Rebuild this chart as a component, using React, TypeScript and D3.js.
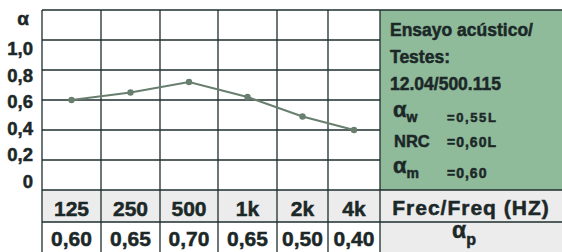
import React from "react";
import * as d3 from "d3";

const freqs = ["125", "250", "500", "1k", "2k", "4k"];
const plotted = [0.6, 0.65, 0.72, 0.62, 0.49, 0.4];
const tableValues = ["0,60", "0,65", "0,70", "0,65", "0,50", "0,40"];
const yLabels = ["1,0", "0,8", "0,6", "0,4", "0,2", "0"];
const gridValues = [0.2, 0.4, 0.6, 0.8, 1.0, 1.2];
const panelLines = ["Ensayo acústico/", "Testes:", "12.04/500.115"];
const ratings = [
  { sym: "α", sub: "w", val: "=0,55L" },
  { sym: "NRC", sub: "", val: "=0,60L" },
  { sym: "α", sub: "m", val: "=0,60" },
];

const W = 562;
const H = 252;
const FONT = "'Liberation Sans', Arial, sans-serif";
const INK = "#1c2828";
const GRID = "#1e2d2d";
const GREEN = "#8fbb9b";
const LIGHT = "#ececec";
const LINE = "#687f6f";

const heavy = { stroke: INK, strokeWidth: 0.5, paintOrder: "stroke" } as const;

export default function App() {
  const colX = d3
    .scaleLinear()
    .domain([0, 1, 2, 3, 4, 5, 6])
    .range([42, 101, 160, 218, 277, 328, 380]);
  const y = d3.scaleLinear().domain([0, 1.2]).range([190, 10]);
  const labelY = d3.scaleLinear().domain([0, 5]).range([55, 188]);
  const hdrTop = 190;
  const hdrBot = 222;
  const panelX = 380;

  const pts = plotted.map((v, i) => [colX(i + 0.5), y(v)] as [number, number]);
  const line = d3.line()(pts) || "";

  return (
    <svg
      width={W}
      height={H}
      style={{ position: "absolute", left: 0, top: 0, background: "#fff" }}
      fontFamily={FONT}
      fontWeight="bold"
    >
      {/* backgrounds */}
      <rect x={panelX} y={y(1.2)} width={W - panelX} height={hdrTop - y(1.2)} fill={GREEN} />
      <rect x={colX(0)} y={hdrTop} width={W - colX(0)} height={hdrBot - hdrTop} fill={LIGHT} />
      <rect x={panelX} y={hdrBot} width={W - panelX} height={H - hdrBot} fill={LIGHT} />

      {/* horizontal grid */}
      {gridValues.map((v) => (
        <line key={v} x1={colX(0)} x2={v === 1.2 ? W : panelX} y1={y(v)} y2={y(v)} stroke={GRID} strokeWidth={1.3} />
      ))}
      <line x1={colX(0)} x2={W} y1={hdrTop} y2={hdrTop} stroke={GRID} strokeWidth={1.3} />
      <line x1={colX(0)} x2={W} y1={hdrBot} y2={hdrBot} stroke={GRID} strokeWidth={1.3} />
      {/* vertical grid */}
      {d3.range(0, 7).map((i) => (
        <line key={i} x1={colX(i)} x2={colX(i)} y1={y(1.2)} y2={H} stroke={GRID} strokeWidth={1.3} />
      ))}

      {/* y labels */}
      <text x={29} y={25} textAnchor="end" fontSize={19} fill={INK} {...heavy}>α</text>
      {yLabels.map((l, i) => (
        <text key={l} x={33} y={labelY(i)} textAnchor="end" fontSize={18.5} fill={INK} {...heavy}>
          {l}
        </text>
      ))}

      {/* data line */}
      <path d={line} fill="none" stroke={LINE} strokeWidth={2} />
      {pts.map((p, i) => (
        <circle key={i} cx={p[0]} cy={p[1]} r={3.2} fill={LINE} />
      ))}

      {/* table */}
      {freqs.map((f, i) => (
        <text key={f} x={colX(i + 0.5)} y={216} textAnchor="middle" fontSize={21} fill={INK} {...heavy}>
          {f}
        </text>
      ))}
      {tableValues.map((v, i) => (
        <text key={i} x={colX(i + 0.5)} y={246} textAnchor="middle" fontSize={21} fill={INK} {...heavy}>
          {v}
        </text>
      ))}
      <text x={471} y={215} textAnchor="middle" fontSize={21} letterSpacing={1} fill={INK} {...heavy}>
        Frec/Freq (HZ)
      </text>
      <text x={452} y={238} fontSize={23} fill={INK} {...heavy}>
        α
        <tspan fontSize={16} dy={7}>p</tspan>
      </text>

      {/* panel text */}
      {panelLines.map((t, i) => (
        <text key={t} x={390} y={36 + i * 27} fontSize={17.5} fill={INK} {...heavy}>
          {t}
        </text>
      ))}
      {ratings.map((r, i) => {
        const by = [117, 147, 173][i];
        return (
          <g key={i}>
            {r.sub ? (
              <text x={393} y={by} fontSize={22} fill={INK} {...heavy}>
                {r.sym}
                <tspan fontSize={14} dy={5}>{r.sub}</tspan>
              </text>
            ) : (
              <text x={394} y={by} fontSize={16.5} fill={INK} {...heavy}>
                {r.sym}
              </text>
            )}
            <text
              x={447}
              y={by + (r.sub ? 5 : 0)}
              fontSize={i === 0 ? 13 : 14}
              letterSpacing={i === 0 ? 1.6 : 1}
              fill={INK}
              {...heavy}
            >
              {r.val}
            </text>
          </g>
        );
      })}
    </svg>
  );
}
